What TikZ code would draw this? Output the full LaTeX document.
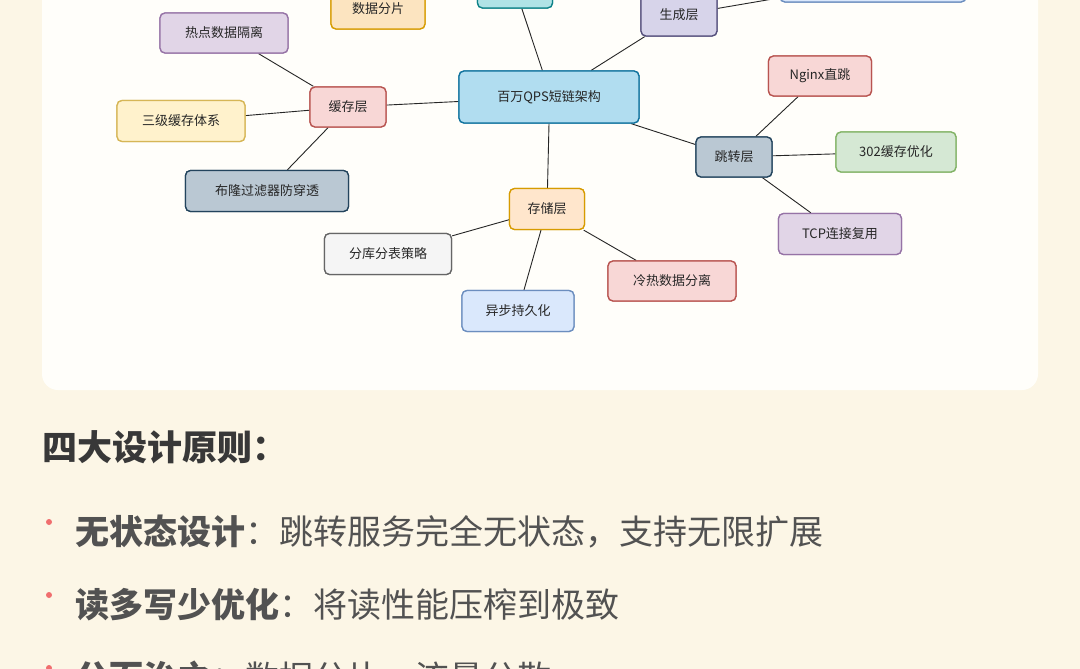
\documentclass[tikz,border=0pt]{standalone}
\usepackage{fontspec}
\setmainfont{Noto Sans CJK SC}
\definecolor{bg}{HTML}{FCF6E6}
\definecolor{card}{HTML}{FFFEFA}
\tikzset{
 box/.style={draw, rounded corners=5pt, line width=1.3pt, font=\fontsize{13}{15}\selectfont, text=black!85, inner sep=0pt},
 pinkb/.style={box, fill={rgb,255:red,248;green,215;blue,214}, draw={rgb,255:red,184;green,84;blue,80}},
 purb/.style={box, fill={rgb,255:red,225;green,213;blue,231}, draw={rgb,255:red,150;green,115;blue,166}},
 yelb/.style={box, fill={rgb,255:red,255;green,242;blue,204}, draw={rgb,255:red,214;green,182;blue,86}},
 orab/.style={box, fill={rgb,255:red,255;green,230;blue,204}, draw={rgb,255:red,215;green,155;blue,0}},
 gryb/.style={box, fill={rgb,255:red,186;green,200;blue,211}, draw={rgb,255:red,35;green,68;blue,93}},
 grnb/.style={box, fill={rgb,255:red,213;green,232;blue,212}, draw={rgb,255:red,130;green,179;blue,102}},
 blub/.style={box, fill={rgb,255:red,177;green,221;blue,240}, draw={rgb,255:red,16;green,115;blue,158}},
 lbub/.style={box, fill={rgb,255:red,218;green,232;blue,252}, draw={rgb,255:red,108;green,142;blue,191}},
 tealb/.style={box, fill={rgb,255:red,176;green,227;blue,230}, draw={rgb,255:red,14;green,130;blue,136}},
 whtb/.style={box, fill={rgb,255:red,245;green,245;blue,245}, draw={rgb,255:red,102;green,102;blue,102}},
 edge/.style={draw=black!85, line width=0.9pt},
 bul/.style={anchor=west, font=\fontsize{34}{40}\selectfont, text=black!68},
 dot/.style={fill={rgb,255:red,240;green,110;blue,110}},
}
\begin{document}
\begin{tikzpicture}[x=1pt,y=-1pt]
\useasboundingbox (0,0) rectangle (1080,669);
\fill[bg] (0,0) rectangle (1080,669);
\fill[card, rounded corners=16pt] (42,-30) rectangle (1038,390);
\begin{scope}
\clip (0,0) rectangle (1080,669);
\node[blub, minimum width=180pt, minimum height=52pt] (root) at (549,97) {百万QPS短链架构};
\node[orab, fill={rgb,255:red,252;green,228;blue,192}, minimum width=94pt, minimum height=40pt] (shard) at (378,9) {数据分片};
\node[tealb, minimum width=75pt, minimum height=40pt] (top) at (515,-12) {};
\node[purb, fill={rgb,255:red,215;green,212;blue,234}, draw={rgb,255:red,86;green,81;blue,125}, minimum width=76pt, minimum height=42pt] (gen) at (679,15) {生成层};
\node[lbub, minimum width=186pt, minimum height=40pt] (tr) at (873,-18) {};
\node[purb, minimum width=128pt, minimum height=40pt] (hot) at (224,33) {热点数据隔离};
\node[pinkb, minimum width=76pt, minimum height=40pt] (cache) at (348,107) {缓存层};
\node[pinkb, minimum width=103pt, minimum height=40pt] (nginx) at (820,76) {Nginx直跳};
\node[yelb, minimum width=128pt, minimum height=41pt] (three) at (181,121) {三级缓存体系};
\node[gryb, minimum width=76pt, minimum height=40pt] (jump) at (734,157) {跳转层};
\node[grnb, minimum width=120pt, minimum height=40pt] (c302) at (896,152) {302缓存优化};
\node[gryb, minimum width=163pt, minimum height=41pt] (bloom) at (267,191) {布隆过滤器防穿透};
\node[orab, minimum width=75pt, minimum height=41pt] (store) at (547,209) {存储层};
\node[purb, minimum width=123pt, minimum height=41pt] (tcp) at (840,234) {TCP连接复用};
\node[whtb, minimum width=127pt, minimum height=41pt] (split) at (388,254) {分库分表策略};
\node[pinkb, minimum width=128pt, minimum height=40pt] (cold) at (672,281) {冷热数据分离};
\node[lbub, minimum width=112pt, minimum height=41pt] (async) at (518,311) {异步持久化};
\coordinate (sp) at (470,-20);
\draw[edge] (root) -- (cache);
\draw[edge] (root) -- (gen);
\draw[edge] (root.north west) ++(84,0) -- (top);
\draw[edge] (root) -- (jump);
\draw[edge] (root.south) -- (store);
\draw[edge] (cache) -- (hot);
\draw[edge] (cache) -- (three);
\draw[edge] (cache) -- (bloom);
\draw[edge] (jump) -- (nginx);
\draw[edge] (jump) -- (c302);
\draw[edge] (jump) -- (tcp);
\draw[edge] (store) -- (split);
\draw[edge] (store) -- (async);
\draw[edge] (store) -- (cold);
\draw[edge] (gen) -- (tr);
\draw[edge] (shard.north east) ++(0,6) -- (sp);
% redraw nodes above connectors
\node[blub, minimum width=180pt, minimum height=52pt] at (549,97) {百万QPS短链架构};
\node[orab, fill={rgb,255:red,252;green,228;blue,192}, minimum width=94pt, minimum height=40pt] at (378,9) {数据分片};
\node[tealb, minimum width=75pt, minimum height=40pt] at (515,-12) {};
\node[purb, fill={rgb,255:red,215;green,212;blue,234}, draw={rgb,255:red,86;green,81;blue,125}, minimum width=76pt, minimum height=42pt] at (679,15) {生成层};
\node[lbub, minimum width=186pt, minimum height=40pt] at (873,-18) {};
\node[purb, minimum width=128pt, minimum height=40pt] at (224,33) {热点数据隔离};
\node[pinkb, minimum width=76pt, minimum height=40pt] at (348,107) {缓存层};
\node[pinkb, minimum width=103pt, minimum height=40pt] at (820,76) {Nginx直跳};
\node[yelb, minimum width=128pt, minimum height=41pt] at (181,121) {三级缓存体系};
\node[gryb, minimum width=76pt, minimum height=40pt] at (734,157) {跳转层};
\node[grnb, minimum width=120pt, minimum height=40pt] at (896,152) {302缓存优化};
\node[gryb, minimum width=163pt, minimum height=41pt] at (267,191) {布隆过滤器防穿透};
\node[orab, minimum width=75pt, minimum height=41pt] at (547,209) {存储层};
\node[purb, minimum width=123pt, minimum height=41pt] at (840,234) {TCP连接复用};
\node[whtb, minimum width=127pt, minimum height=41pt] at (388,254) {分库分表策略};
\node[pinkb, minimum width=128pt, minimum height=40pt] at (672,281) {冷热数据分离};
\node[lbub, minimum width=112pt, minimum height=41pt] at (518,311) {异步持久化};
\end{scope}
\node[anchor=west, font=\fontsize{35}{40}\selectfont\bfseries, text=black!78, inner sep=0pt] (hd) at (42,447) {四大设计原则：};
\begin{scope}
\clip (0,0) rectangle (1080,669);
\fill[dot] (49,522) circle (3pt);
\node[bul, inner sep=0pt] (b1) at (75,532) {\textbf{无状态设计}：跳转服务完全无状态，支持无限扩展};
\fill[dot] (49,595) circle (3pt);
\node[bul, inner sep=0pt] (b2) at (75,605) {\textbf{读多写少优化}：将读性能压榨到极致};
\fill[dot] (49,668) circle (3pt);
\node[bul, inner sep=0pt] (b3) at (75,678) {\textbf{分而治之}：数据分片，流量分散};
\end{scope}
\end{tikzpicture}
\end{document}
